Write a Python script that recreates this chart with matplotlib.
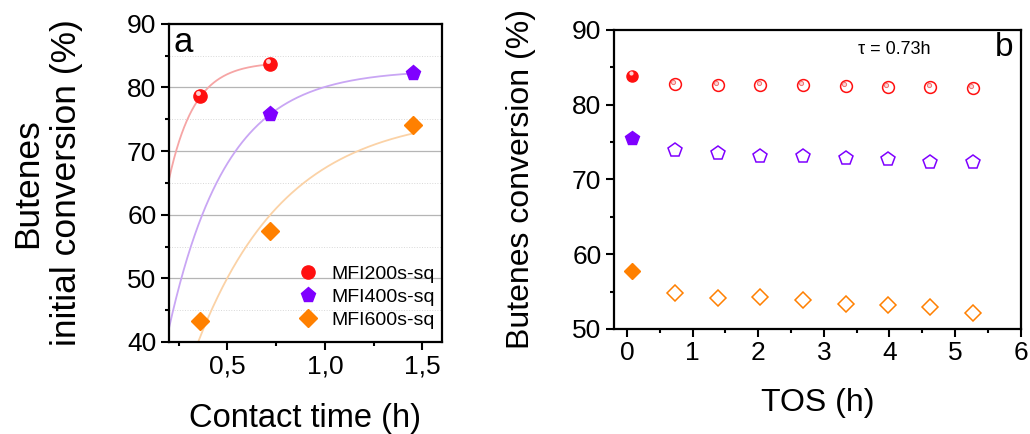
import numpy as np
import matplotlib
matplotlib.use("Agg")
import matplotlib.pyplot as plt
from matplotlib.ticker import MultipleLocator, FuncFormatter
from matplotlib.transforms import offset_copy

plt.rcParams['font.family'] = ['Liberation Sans', 'DejaVu Sans']

# --- panel a: initial conversion vs contact time ---
tau_200 = [0.36, 0.72]
conv_200 = [78.7, 83.7]
tau_400 = [0.72, 1.45]
conv_400 = [75.8, 82.3]
tau_600 = [0.36, 0.72, 1.45]
conv_600 = [43.3, 57.4, 74.1]

# exponential fit parameters (ymax, k, x where y=y0, y0, x end)
fit_200 = (84.0, 7.58, 0.20, 65.5, 0.72)
fit_400 = (82.8, 3.385, 0.185, 40.0, 1.45)
fit_600 = (76.0, 2.19, 0.35, 40.0, 1.45)

# --- panel b: conversion vs time on stream ---
tos = [0.08, 0.73, 1.38, 2.03, 2.68, 3.33, 3.97, 4.62, 5.27]
tos_200 = [83.9, 82.8, 82.6, 82.6, 82.6, 82.5, 82.4, 82.4, 82.2]
tos_400 = [75.6, 74.0, 73.5, 73.2, 73.1, 72.9, 72.7, 72.4, 72.3]
tos_600 = [57.7, 54.8, 54.2, 54.3, 53.9, 53.4, 53.2, 52.9, 52.2]

RED, PURPLE, ORANGE = '#ff1010', '#7f00ff', '#ff8000'
RED_L, PURPLE_L, ORANGE_L = '#f6a5a5', '#c9a6f4', '#fbd2a6'


def fit_curve(p, x_start):
    ymax, k, x0, y0, x_end = p
    x = np.linspace(x_start, x_end, 200)
    return x, ymax - (ymax - y0) * np.exp(-k * (x - x0))


def style_axes(ax):
    for s in ax.spines.values():
        s.set_linewidth(1.6)
    ax.tick_params(which='both', direction='out', top=False, right=False,
                   width=1.5, labelsize=19)
    ax.tick_params(which='major', length=5.5)
    ax.tick_params(which='minor', length=3)


fig = plt.figure(figsize=(10.3, 4.34), dpi=100)

# panel a
ax1 = fig.add_axes([0.164, 0.212, 0.265, 0.733])
ax1.set_xlim(0.2, 1.6)
ax1.set_ylim(40, 90)
ax1.xaxis.set_major_locator(MultipleLocator(0.5))
ax1.xaxis.set_minor_locator(MultipleLocator(0.25))
ax1.yaxis.set_major_locator(MultipleLocator(10))
ax1.yaxis.set_minor_locator(MultipleLocator(5))
ax1.xaxis.set_major_formatter(FuncFormatter(lambda v, p: f"{v:.1f}".replace('.', ',')))
ax1.grid(axis='y', which='major', color='#b5b5b5', lw=0.9)
ax1.grid(axis='y', which='minor', color='#d8d8d8', lw=0.7, ls=':')
ax1.set_axisbelow(True)

for p, c in [(fit_200, RED_L), (fit_400, PURPLE_L), (fit_600, ORANGE_L)]:
    xx, yy = fit_curve(p, 0.2)
    ax1.plot(xx, yy, color=c, lw=1.3, zorder=2)

ax1.plot(tau_200, conv_200, 'o', ms=9.5, color=RED, mec=RED, ls='none',
         label='MFI200s-sq', zorder=3)
ax1.plot(tau_400, conv_400, 'p', ms=11, color=PURPLE, mec=PURPLE, ls='none',
         label='MFI400s-sq', zorder=3)
ax1.plot(tau_600, conv_600, 'D', ms=9, color=ORANGE, mec=ORANGE, ls='none',
         label='MFI600s-sq', zorder=3)
hl = offset_copy(ax1.transData, fig=fig, x=-1.5, y=1.8, units='points')
ax1.plot(tau_200, conv_200, 'o', ms=3.5, color='#ffd0d0', mec='none',
         transform=hl, zorder=4)

leg = ax1.legend(loc='lower right', bbox_to_anchor=(1.0, 0.02), frameon=False,
                 fontsize=14, handletextpad=0.6, labelspacing=0.28,
                 borderaxespad=0.0, borderpad=0.35, handlelength=1.2)
ax1.text(0.015, 0.912, 'a', transform=ax1.transAxes, fontsize=25,
         ha='left', va='baseline')
ax1.set_xlabel('Contact time (h)', fontsize=23.5, labelpad=18)
ax1.set_ylabel('Butenes\ninitial conversion (%)', fontsize=25.5, labelpad=32,
               linespacing=1.2)
style_axes(ax1)

# panel b
ax2 = fig.add_axes([0.596, 0.242, 0.395, 0.689])
ax2.set_xlim(-0.2, 6)
ax2.set_ylim(50, 90)
ax2.xaxis.set_major_locator(MultipleLocator(1))
ax2.xaxis.set_minor_locator(MultipleLocator(0.5))
ax2.yaxis.set_major_locator(MultipleLocator(10))
ax2.yaxis.set_minor_locator(MultipleLocator(5))

# filled first point, open points afterwards
ax2.plot(tos[:1], tos_200[:1], 'o', ms=8, color=RED, mec=RED)
ax2.plot(tos[:1], tos_400[:1], 'p', ms=10, color=PURPLE, mec=PURPLE)
ax2.plot(tos[:1], tos_600[:1], 'D', ms=8, color=ORANGE, mec=ORANGE)
ax2.plot(tos[1:], tos_200[1:], 'o', ms=8.5, mfc='none', mec=RED, mew=1.1, ls='none')
ax2.plot(tos[1:], tos_400[1:], 'p', ms=10.5, mfc='none', mec=PURPLE, mew=1.1, ls='none')
ax2.plot(tos[1:], tos_600[1:], 'D', ms=8.5, mfc='none', mec=ORANGE, mew=1.1, ls='none')
hl2 = offset_copy(ax2.transData, fig=fig, x=-1.2, y=1.6, units='points')
ax2.plot(tos[:1], tos_200[:1], 'o', ms=3, color='#ffd0d0', mec='none', transform=hl2)
ax2.plot(tos[1:], tos_200[1:], 'o', ms=3, mfc='#fbd6d6', mec='#f07070', mew=0.7,
         ls='none', transform=hl2)

ax2.text(0.69, 0.936, 'τ = 0.73h', transform=ax2.transAxes, fontsize=13,
         ha='center', va='center')
ax2.text(0.96, 0.94, 'b', transform=ax2.transAxes, fontsize=24,
         ha='center', va='center')
ax2.set_xlabel('TOS (h)', fontsize=23, labelpad=16)
ax2.set_ylabel('Butenes conversion (%)', fontsize=23, labelpad=26)
style_axes(ax2)

fig.savefig('out.png', dpi=100)
